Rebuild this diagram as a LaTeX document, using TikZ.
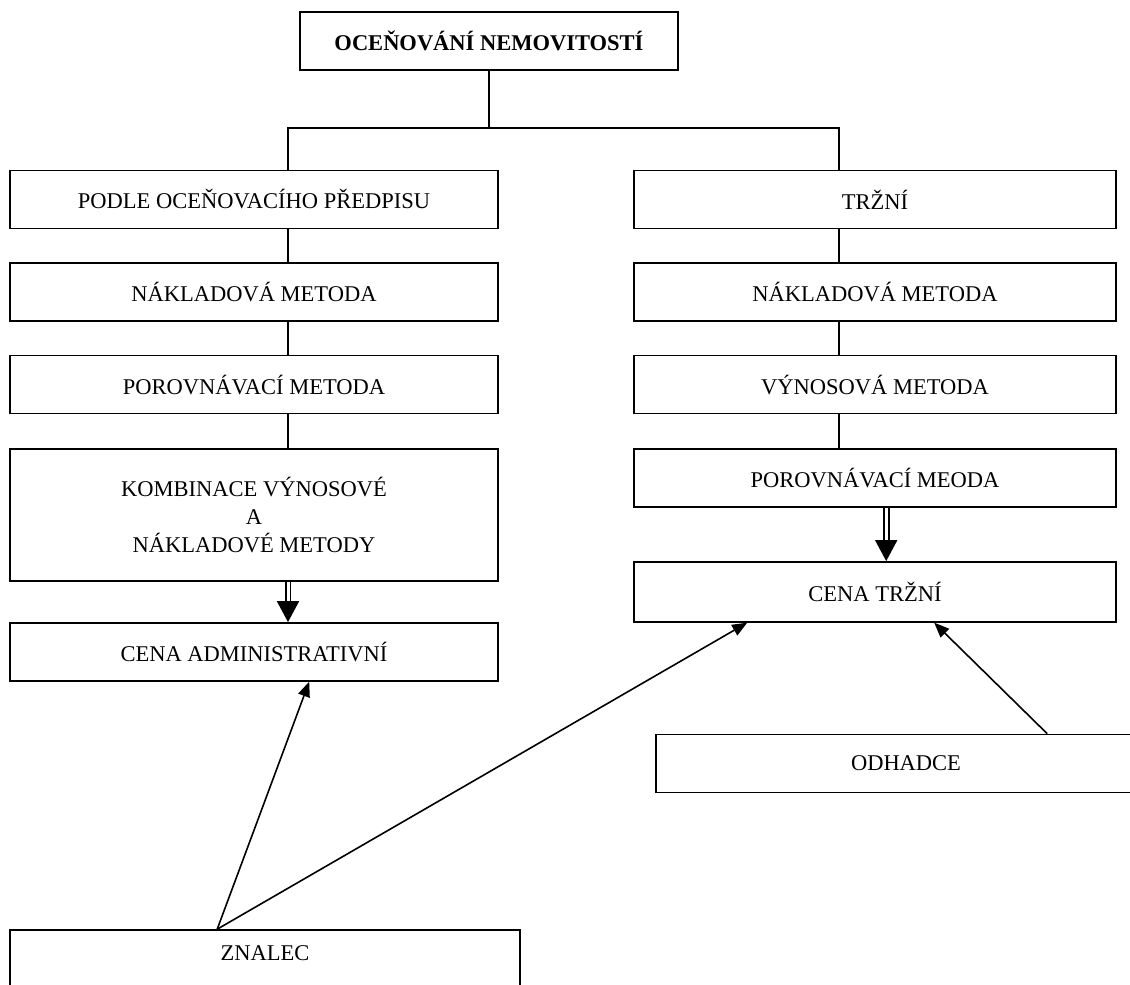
\documentclass[tikz,border=0pt]{standalone}
\usepackage{fontspec}
\setmainfont{Liberation Serif}
\usetikzlibrary{arrows.meta,positioning,calc}

\begin{document}
\begin{tikzpicture}[
    x=1pt, y=1pt,
    node distance=33pt,
    box/.style={rectangle, draw, line width=1.6pt, align=center, minimum height=58pt, inner sep=0pt,
        font=\fontsize{22.5}{28}\selectfont},
    boxL/.style={box, minimum width=488pt},
    boxR/.style={box, minimum width=482pt},
    link/.style={line width=1.4pt},
    arrow/.style={line width=1.6pt, -{Triangle[length=15pt,width=12pt]}},
    dblarrow/.style={double, double distance=3pt, line width=1.9pt, -{Triangle[length=21pt,width=22pt]}}
]
    \clip (0,0) rectangle (1130,985);
    \fill[white] (0,0) rectangle (1130,985);

    % root
    \node[box, minimum width=378pt, font=\fontsize{22.5}{28}\selectfont\bfseries] (root) at (489,944) {OCEŇOVÁNÍ NEMOVITOSTÍ};

    % left branch
    \node[boxL] (predpis) at (254,785.5) {PODLE OCEŇOVACÍHO PŘEDPISU};
    \node[boxL, below=of predpis] (naklL) {NÁKLADOVÁ METODA};
    \node[boxL, below=of naklL] (porovL) {POROVNÁVACÍ METODA};
    \node[boxL, below=34pt of porovL, minimum height=132pt] (kombi) {KOMBINACE VÝNOSOVÉ\\A\\NÁKLADOVÉ METODY};
    \node[boxL, below=40pt of kombi] (admin) {CENA ADMINISTRATIVNÍ};

    % right branch
    \node[boxR] (trzni) at (875,785.5) {TRŽNÍ};
    \node[boxR, below=of trzni] (naklR) {NÁKLADOVÁ METODA};
    \node[boxR, below=of naklR] (vynos) {VÝNOSOVÁ METODA};
    \node[boxR, below=34pt of vynos] (porovR) {POROVNÁVACÍ MEODA};
    \node[boxR, below=53pt of porovR, minimum height=60pt] (cenaT) {CENA TRŽNÍ};

    % experts
    \node[box, minimum width=500pt] (odhad) at (906,221.5) {ODHADCE};
    \node[box, minimum width=510pt, minimum height=62pt, text depth=16pt] (znalec) at (265,24) {ZNALEC};

    % tree lines
    \coordinate (stemL) at (288,857);
    \coordinate (stemR) at (839,857);
    \draw[link] (root.south) -- (root.south |- stemL);
    \draw[link] (predpis.north -| stemL) -- (stemL) -- (stemR) -- (trzni.north -| stemR);
    \foreach \a/\b in {predpis/naklL, naklL/porovL, porovL/kombi}
        \draw[link] (\a.south -| stemL) -- (\b.north -| stemL);
    \foreach \a/\b in {trzni/naklR, naklR/vynos, vynos/porovR}
        \draw[link] (\a.south -| stemR) -- (\b.north -| stemR);

    % results
    \draw[dblarrow] (kombi.south -| stemL) -- (admin.north -| stemL);
    \draw[dblarrow] ([xshift=253pt]porovR.south west) -- ([xshift=253pt]cenaT.north west);

    % who sets the price
    \draw[arrow] ([xshift=208pt]znalec.north west) -- ([xshift=300pt]admin.south west);
    \draw[arrow] ([xshift=208pt]znalec.north west) -- ([xshift=114pt]cenaT.south west);
    \draw[arrow] ([xshift=392pt]odhad.north west) -- ([xshift=301pt]cenaT.south west);
\end{tikzpicture}
\end{document}
